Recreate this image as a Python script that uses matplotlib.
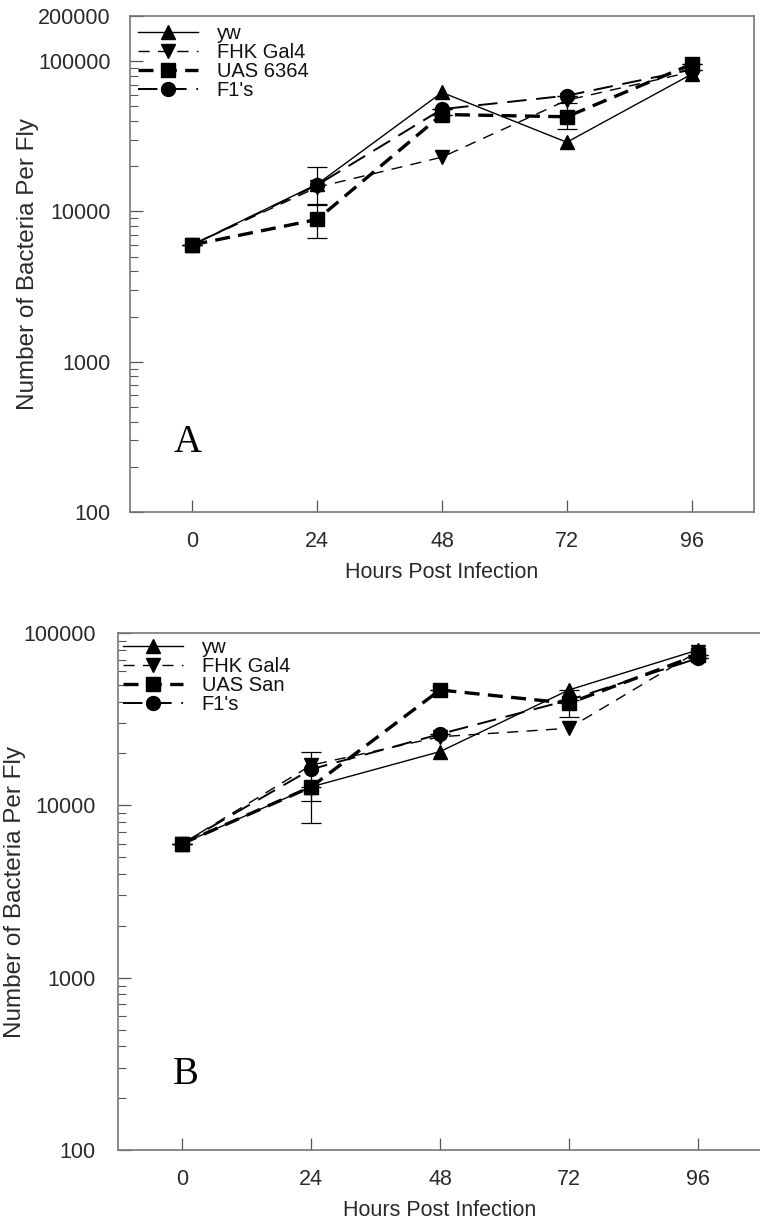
import matplotlib
matplotlib.use("Agg")
import matplotlib.pyplot as plt
import numpy as np

hours = [0, 24, 48, 72, 96]
xtick_labels = ["0", "24", "48", "72", "96"]

# Panel A
a_series = ["yw", "FHK Gal4", "UAS 6364", "F1's"]
a_yw = [6000, 15200, 62000, 28900, 82000]
a_fhk = [6000, 14500, 23000, 55000, 85000]
a_uas = [6000, 8850, 44200, 42700, 95500]
a_f1 = [6000, 15000, 48000, 59000, 88000]
a_f1_lo = [6000, 11300, 48000, 59000, 88000]
a_f1_hi = [6000, 19700, 48000, 59000, 88000]
a_uas_lo = [6000, 6700, 44200, 35500, 95500]
a_uas_hi = [6000, 11000, 44200, 53000, 95500]
a_yticks = [100, 1000, 10000, 100000, 200000]

# Panel B
b_series = ["yw", "FHK Gal4", "UAS San", "F1's"]
b_yw = [6000, 12800, 20500, 46700, 79600]
b_fhk = [6000, 17100, 25000, 28000, 78000]
b_uas = [6000, 12800, 46700, 39100, 74500]
b_f1 = [6000, 16200, 25900, 40800, 71300]
b_f1_lo = [6000, 10600, 25900, 40800, 71300]
b_f1_hi = [6000, 20300, 25900, 40800, 71300]
b_uas_lo = [6000, 7900, 46700, 32400, 74500]
b_uas_hi = [6000, 12800, 46700, 46700, 74500]
b_yticks = [100, 1000, 10000, 100000]

W, H = 760, 1226
fig = plt.figure(figsize=(W / 100, H / 100), dpi=100)
plt.rcParams['font.family'] = ['Liberation Sans', 'DejaVu Sans']

TXT = '#2a2a2a'

def add_ax(left, top, right, bottom):
    return fig.add_axes([left / W, 1 - bottom / H, (right - left) / W, (bottom - top) / H])

styles = [
    dict(marker='^', lw=1.0, dashes=None),
    dict(marker='v', lw=1.0, dashes=(8, 6)),
    dict(marker='s', lw=2.4, dashes=(4.5, 2.5)),
    dict(marker='o', lw=1.4, dashes=(10, 5)),
]

def draw(ax, names, data, f1_lo, f1_hi, uas_lo, uas_hi, ylim, yticks, ylab_x, ypad, leg_pad):
    handles = []
    for name, vals, st in zip(names, data, styles):
        kw = dict(color='black', marker=st['marker'], markersize=10, lw=st['lw'], label=name)
        if st['dashes'] is not None:
            kw['dashes'] = st['dashes']
        else:
            kw['ls'] = '-'
        h, = ax.plot(hours, vals, **kw)
        handles.append(h)
    f1 = np.array(data[3]); uas = np.array(data[2])
    ax.errorbar(hours, f1, yerr=[f1 - np.array(f1_lo), np.array(f1_hi) - f1],
                fmt='none', ecolor='black', elinewidth=0.9, capsize=7, capthick=0.9)
    ax.errorbar(hours, uas, yerr=[uas - np.array(uas_lo), np.array(uas_hi) - uas],
                fmt='none', ecolor='black', elinewidth=0.9, capsize=7, capthick=0.9)
    ax.set_yscale('log')
    ax.set_ylim(*ylim)
    ax.set_xlim(-12, 108)
    ax.set_xticks(hours)
    ax.set_xticklabels(xtick_labels)
    ax.set_yticks(yticks)
    ax.set_yticklabels([str(t) for t in yticks])
    ax.yaxis.set_minor_locator(matplotlib.ticker.LogLocator(base=10, subs=np.arange(2, 10)))
    ax.yaxis.set_minor_formatter(matplotlib.ticker.NullFormatter())
    ax.tick_params(axis='both', which='major', direction='in', length=9, width=0.9,
                   color='#555555', labelsize=15.5, labelcolor=TXT)
    ax.tick_params(axis='x', which='major', pad=14)
    ax.tick_params(axis='y', which='major', pad=ypad)
    ax.tick_params(axis='y', which='minor', direction='in', length=6, width=0.8, color='#555555')
    ax.tick_params(axis='x', top=False)
    ax.tick_params(axis='y', right=False)
    for sp in ax.spines.values():
        sp.set_color('#777777')
        sp.set_linewidth(1.2)
    ax.set_xlabel("Hours Post Infection", fontsize=15.5, color=TXT, labelpad=7)
    ax.set_ylabel("Number of Bacteria Per Fly", fontsize=17.5, color=TXT)
    ax.yaxis.set_label_coords(ylab_x, 0.5)
    leg = ax.legend(handles=handles, loc='upper left', frameon=False, fontsize=14.5,
                    handlelength=3.0, handletextpad=0.9, labelspacing=0.0,
                    borderaxespad=leg_pad, borderpad=0.1, bbox_to_anchor=(0.0, 1.0))
    for t in leg.get_texts():
        t.set_color('#111111')

axA = add_ax(130, 16, 754, 512)
draw(axA, a_series, [a_yw, a_fhk, a_uas, a_f1], a_f1_lo, a_f1_hi, a_uas_lo, a_uas_hi,
     (100, 200000), a_yticks, -0.146, 14, 0.3)

axB = add_ax(118, 633, 762, 1150)
draw(axB, b_series, [b_yw, b_fhk, b_uas, b_f1], b_f1_lo, b_f1_hi, b_uas_lo, b_uas_hi,
     (100, 100000), b_yticks, -0.143, 16, 0.15)

fig.text(188 / W, 1 - 443 / H, "A", fontsize=28, family='Liberation Serif',
         ha='center', va='center')
fig.text(186 / W, 1 - 1074 / H, "B", fontsize=28, family='Liberation Serif',
         ha='center', va='center')

fig.savefig("out.png", dpi=100)
